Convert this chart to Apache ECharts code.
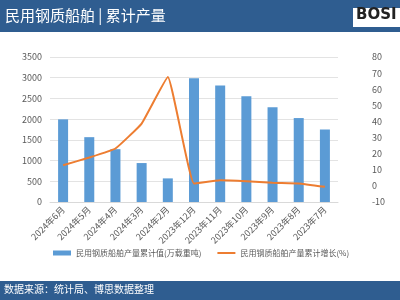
<!DOCTYPE html>
<html><head><meta charset="utf-8">
<script src="https://cdn.jsdelivr.net/npm/echarts@6/dist/echarts.min.js"></script>
<style>html,body{margin:0;padding:0;background:#fff}#c{width:400px;height:300px}</style>
</head><body><div id="c"></div>
<script>
var categories = ['2024年6月','2024年5月','2024年4月','2024年3月','2024年2月','2023年12月','2023年11月','2023年10月','2023年9月','2023年8月','2023年7月'];
var cumValue = [1995, 1565, 1275, 940, 570, 2990, 2812, 2555, 2290, 2026, 1750];
var cumGrowth = [12.8, 17.6, 23.2, 38.7, 67.6, 1.5, 3.5, 2.9, 1.9, 1.5, -0.6];
var leftTicks = [0, 3500, 500];
var rightTicks = [-10, 80, 10];
var seriesNames = ['民用钢质船舶产量累计值(万载重吨)', '民用钢质船舶产量累计增长(%)'];
var titleText = '民用钢质船舶 | 累计产量';
var sourceText = '数据来源：统计局、博思数据整理';

var font = '"Noto Sans CJK SC", "Noto Sans", sans-serif';
var chart = echarts.init(document.getElementById('c'), null, {renderer: 'canvas'});
chart.setOption({
  animation: false,
  textStyle: {fontFamily: font},
  graphic: [
    {type: 'rect', left: 0, top: 0, shape: {width: 400, height: 32}, style: {fill: '#2f5d90'}, z: 0},
    {type: 'text', left: 5, top: 8, style: {text: titleText, fill: '#fff', fontSize: 15, fontFamily: font}},
    {type: 'rect', left: 353, top: 8, shape: {width: 47, height: 19}, style: {fill: '#fff'}},
    {type: 'text', left: 356, top: 8, style: {text: 'BOSI', fill: '#222', fontSize: 15, fontWeight: 'bold', fontFamily: 'DejaVu Sans'}},
    {type: 'rect', left: 0, top: 281, shape: {width: 400, height: 19}, style: {fill: '#2f5d90'}},
    {type: 'text', left: 4, top: 284, style: {text: sourceText, fill: '#fff', fontSize: 10, fontFamily: font}}
  ],
  grid: {left: 50, right: 62, top: 57, bottom: 98},
  legend: {
    bottom: 38, left: 48, itemGap: 16, itemWidth: 18, itemHeight: 5,
    textStyle: {fontSize: 8, color: '#595959', fontFamily: font},
    data: [{name: seriesNames[0], icon: 'rect'},
           {name: seriesNames[1], icon: 'path://M0,0 L18,0 L18,2 L0,2 Z', itemStyle: {color: '#ed7d31'}}]
  },
  xAxis: {
    type: 'category', data: categories,
    axisLine: {lineStyle: {color: '#d9d9d9'}},
    axisTick: {show: false},
    axisLabel: {rotate: 45, fontSize: 9, color: '#595959', interval: 0, margin: 6}
  },
  yAxis: [
    {type: 'value', min: leftTicks[0], max: leftTicks[1], interval: leftTicks[2],
     axisLine: {show: false}, axisTick: {show: false},
     axisLabel: {fontSize: 9, color: '#595959', margin: 8, formatter: function (v) { return String(v); }},
     splitLine: {lineStyle: {color: '#e3e3e3'}}},
    {type: 'value', min: rightTicks[0], max: rightTicks[1], interval: rightTicks[2],
     axisLine: {show: false}, axisTick: {show: false},
     axisLabel: {fontSize: 9, color: '#595959', margin: 34, formatter: function (v) { return String(v); }},
     splitLine: {show: false}}
  ],
  series: [
    {name: seriesNames[0], type: 'bar', data: cumValue, barWidth: 10, itemStyle: {color: '#5b9bd5'}},
    {name: seriesNames[1], type: 'line', yAxisIndex: 1, data: cumGrowth, smooth: 0.1,
     symbol: 'none', lineStyle: {color: '#ed7d31', width: 2}, itemStyle: {color: '#ed7d31'}}
  ]
});
</script></body></html>
